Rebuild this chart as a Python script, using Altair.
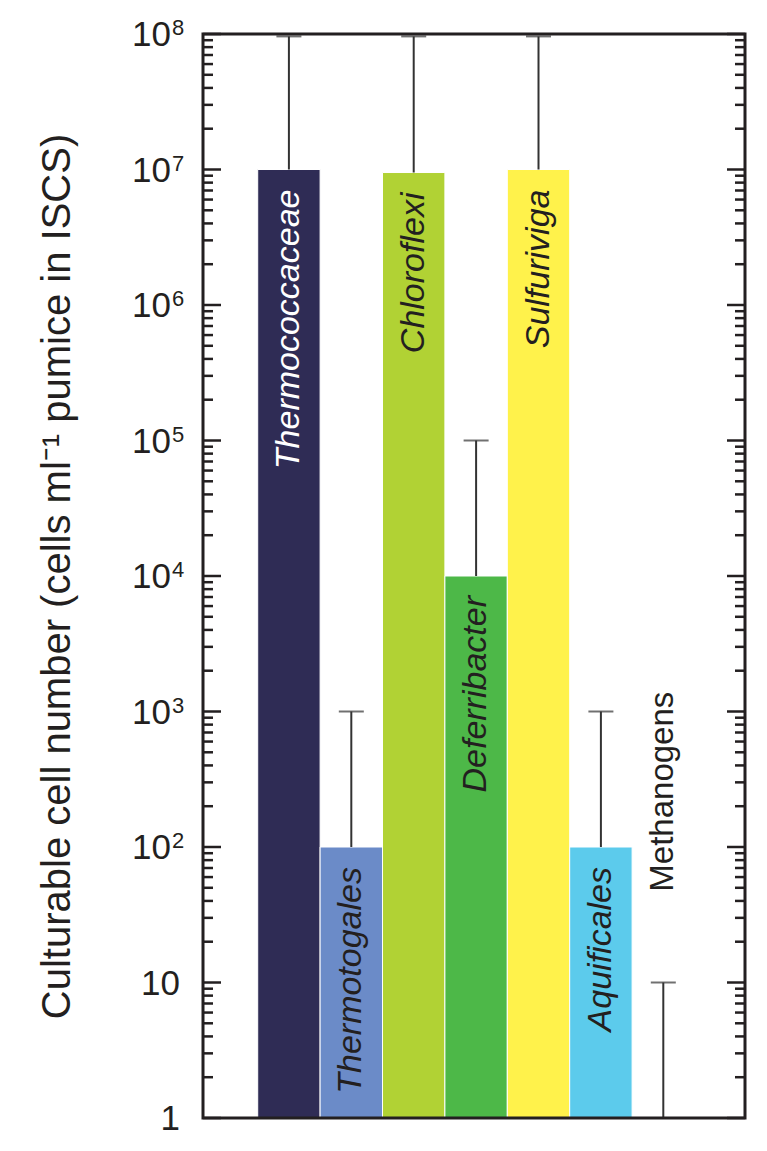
import altair as alt
import pandas as pd

# ---- data ----
taxa = ["Thermococcaceae", "Thermotogales", "Chloroflexi", "Deferribacter",
        "Sulfuriviga", "Aquificales", "Methanogens"]
values = [1.0e7, 1.0e2, 9.5e6, 1.0e4, 1.0e7, 1.0e2, None]      # bar heights
err_low = [1.0e7, 1.0e2, 9.5e6, 1.0e4, 1.0e7, 1.0e2, 1.0]        # error bar start
err_high = [9.6e7, 1.0e3, 9.6e7, 1.0e5, 9.6e7, 1.0e3, 1.0e1]     # error bar end
bar_colors = ["#2f2c55", "#6b8bc8", "#b1d234", "#4db848", "#fff24b", "#5ccbec", "#ffffff"]
label_colors = ["#ffffff", "#231f20", "#231f20", "#231f20", "#231f20", "#231f20", "#231f20"]
methanogen_label_anchor = 1.4e3

decades = [1, 10, 1e2, 1e3, 1e4, 1e5, 1e6, 1e7, 1e8]
decade_base = ["1", "10", "10", "10", "10", "10", "10", "10", "10"]
decade_exp = ["", "", "2", "3", "4", "5", "6", "7", "8"]
minor_multipliers = [2, 3, 4, 5, 6, 7, 8, 9]

W, H = 542, 1084
FONT = "Liberation Sans"

df = pd.DataFrame({"taxon": taxa, "value": values, "lo": err_low, "hi": err_high,
                   "color": bar_colors, "tcolor": label_colors})
df_ticks = pd.DataFrame({"v": decades, "base": decade_base, "exp": decade_exp})
minor_vals = [m * d for d in decades[:-1] for m in minor_multipliers]
df_minor = pd.DataFrame({"v": minor_vals})

yscale = alt.Scale(type="log", domain=[1, 1e8], nice=False)
xscale = alt.Scale(domain=taxa, paddingInner=0, paddingOuter=0.843, align=0.52)

base = alt.Chart(df)
X = alt.X("taxon:N", sort=taxa, scale=xscale, axis=None)

bars = base.transform_filter("isValid(datum.value)").mark_bar(
    stroke="white", strokeWidth=1
).encode(
    x=X,
    y=alt.Y("value:Q", scale=yscale,
            axis=alt.Axis(labels=False, ticks=False, domain=False, grid=False,
                          title="Culturable cell number (cells ml\u207b\u00b9  pumice in ISCS)",
                          titleFont=FONT, titleFontSize=40, titleFontWeight="normal",
                          titleColor="#231f20", titlePadding=126)),
    y2=alt.datum(1),
    color=alt.Color("color:N", scale=None),
)

err = base.mark_rule(color="#333333", strokeWidth=2).encode(
    x=X, y=alt.Y("lo:Q", scale=yscale), y2="hi:Q")
caps = base.mark_tick(color="#333333", size=25, thickness=2).encode(
    x=X, y=alt.Y("hi:Q", scale=yscale))

labels = base.transform_filter("isValid(datum.value)").mark_text(
    angle=270, align="right", baseline="middle", dx=-20, font=FONT,
    fontSize=34, fontStyle="italic"
).encode(x=X, y=alt.Y("value:Q", scale=yscale), text="taxon:N",
         color=alt.Color("tcolor:N", scale=None))

meth = base.transform_filter("!isValid(datum.value)").transform_calculate(
    anchor=str(methanogen_label_anchor)
).mark_text(angle=270, align="right", baseline="middle", font=FONT, fontSize=33,
            color="#231f20").encode(x=X, y=alt.Y("anchor:Q", scale=yscale), text="taxon:N")

tb = alt.Chart(df_ticks)
maj_l = tb.mark_rule(color="#231f20", strokeWidth=2.5).encode(
    y=alt.Y("v:Q", scale=yscale), x=alt.value(0), x2=alt.value(18))
maj_r = tb.mark_rule(color="#231f20", strokeWidth=2.5).encode(
    y=alt.Y("v:Q", scale=yscale), x=alt.value(W), x2=alt.value(W - 18))
mb = alt.Chart(df_minor)
min_l = mb.mark_rule(color="#231f20", strokeWidth=2.5).encode(
    y=alt.Y("v:Q", scale=yscale), x=alt.value(0), x2=alt.value(10))
min_r = mb.mark_rule(color="#231f20", strokeWidth=2.5).encode(
    y=alt.Y("v:Q", scale=yscale), x=alt.value(W), x2=alt.value(W - 10))

lab_plain = tb.transform_filter("datum.exp == ''").mark_text(
    align="right", baseline="alphabetic", dy=12, font=FONT, fontSize=35, color="#231f20"
).encode(y=alt.Y("v:Q", scale=yscale), x=alt.value(-23), text="base:N")
lab_base = tb.transform_filter("datum.exp != ''").mark_text(
    align="right", baseline="alphabetic", dy=12, font=FONT, fontSize=35, color="#231f20"
).encode(y=alt.Y("v:Q", scale=yscale), x=alt.value(-32), text="base:N")
lab_exp = tb.transform_filter("datum.exp != ''").mark_text(
    align="left", baseline="alphabetic", dy=1, font=FONT, fontSize=22, color="#231f20"
).encode(y=alt.Y("v:Q", scale=yscale), x=alt.value(-31), text="exp:N")

frame = alt.Chart(df_ticks).transform_filter("datum.v == 1").mark_rect(
    fillOpacity=0, stroke="#231f20", strokeWidth=3
).encode(x=alt.value(0), x2=alt.value(W), y=alt.value(0), y2=alt.value(H))

chart = alt.layer(
    bars, err, caps, labels, meth, maj_l, maj_r, min_l, min_r,
    lab_plain, lab_base, lab_exp, frame
).properties(
    width=W, height=H,
    autosize=alt.AutoSizeParams(type="none"),
    padding={"left": 195, "top": 26, "right": 14, "bottom": 25},
).configure_view(stroke=None).configure(background="white")

chart.save("out.html", embed_options={"renderer": "svg", "actions": False})
